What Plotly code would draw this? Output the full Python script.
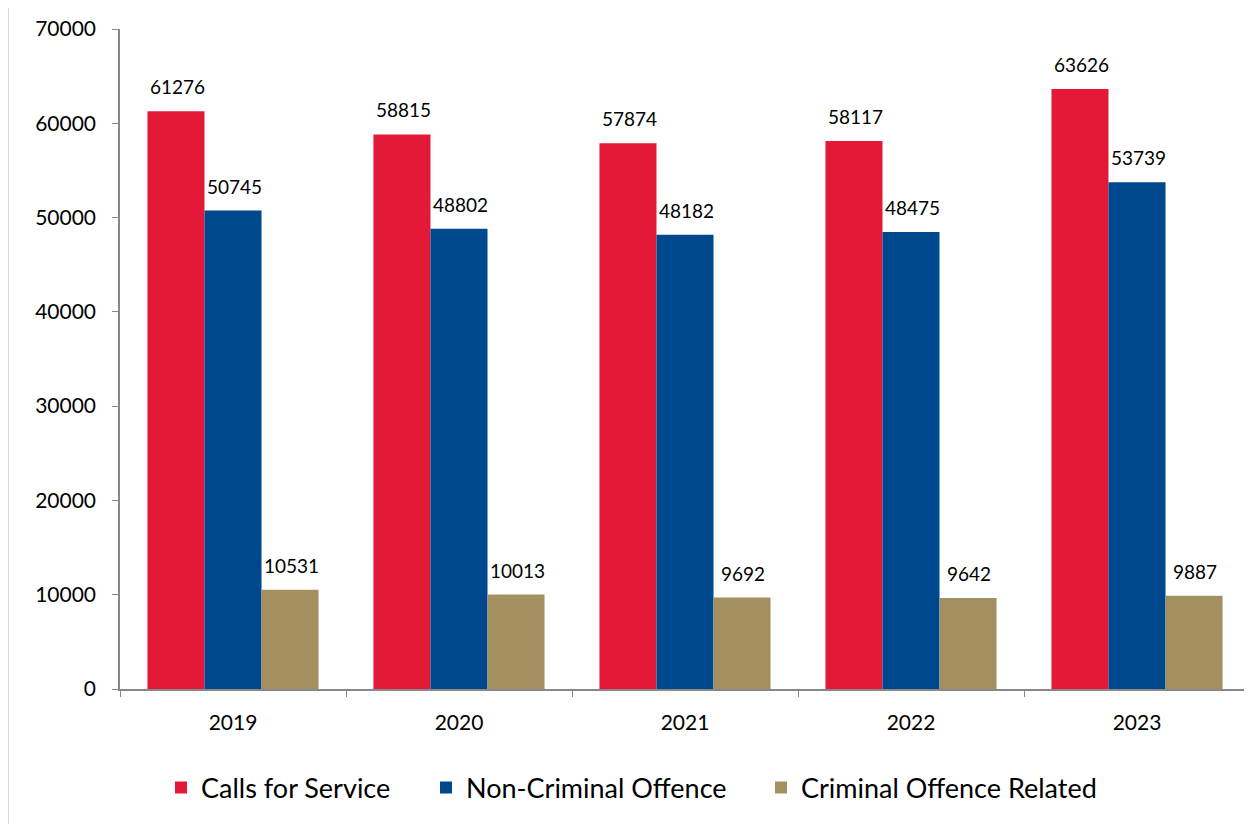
import plotly.graph_objects as go

years = ["2019", "2020", "2021", "2022", "2023"]
calls = [61276, 58815, 57874, 58117, 63626]
non_criminal = [50745, 48802, 48182, 48475, 53739]
criminal = [10531, 10013, 9692, 9642, 9887]
series_names = ["Calls for Service", "Non-Criminal Offence", "Criminal Offence Related"]
colors = ["#E31937", "#00488D", "#A38F5F"]
y_ticks = [0, 10000, 20000, 30000, 40000, 50000, 60000, 70000]

FONT = "Lato"
series = [calls, non_criminal, criminal]
legend_ids = ["legend", "legend2", "legend3"]

fig = go.Figure()
for name, vals, col, lid in zip(series_names, series, colors, legend_ids):
    fig.add_trace(go.Bar(x=years, y=vals, name=name, legend=lid,
                         marker=dict(color=col, line=dict(width=0))))

annotations = []
bar_px = 57
for i, vals in enumerate(series):
    for j, v in enumerate(vals):
        annotations.append(dict(x=j, y=v, xref="x", yref="y", text=str(v), showarrow=False,
                                xanchor="center", yanchor="bottom", xshift=(i - 1) * bar_px + 1, yshift=11,
                                font=dict(family=FONT, size=19, color="#000000")))

# page has an 8px body margin; figure sits at (8, 8)
W, H = 1244, 816
ml, mt, mr, mb = 112, 21, 2, 135
pw, ph = W - ml - mr, H - mt - mb

# legend swatch screen positions in the reference
swatch_left = [175, 440, 775]
SWATCH_OFF = 14


def legend_cfg(sx):
    return dict(orientation="h", x=(sx - SWATCH_OFF - 120) / pw, xanchor="left", y=-0.15, yanchor="middle",
                font=dict(family=FONT, size=27), itemwidth=30, bgcolor="rgba(0,0,0,0)")


fig.update_layout(
    width=W, height=H,
    margin=dict(l=ml, r=mr, t=mt, b=mb),
    paper_bgcolor="white", plot_bgcolor="white",
    barmode="group", bargap=0.243, bargroupgap=0,
    font=dict(family=FONT, color="#000000"),
    showlegend=True,
    legend=legend_cfg(swatch_left[0]),
    legend2=legend_cfg(swatch_left[1]),
    legend3=legend_cfg(swatch_left[2]),
    annotations=annotations,
    shapes=[dict(type="rect", xref="paper", yref="paper",
                 x0=(0.5 - ml) / pw, x1=(W + 10 - ml) / pw,
                 y0=-(mb + 10) / ph, y1=(ph + mt + 0.5) / ph,
                 line=dict(color="#D9D9D9", width=1), fillcolor="rgba(0,0,0,0)", layer="below")],
)
fig.update_yaxes(range=[0, 70000], tickvals=y_ticks, ticktext=[str(t) for t in y_ticks],
                 showgrid=False, zeroline=False, showline=True, linecolor="#888888", linewidth=1.5,
                 ticks="outside", ticklen=6, tickcolor="#888888", tickfont=dict(family=FONT, size=21),
                 ticklabelstandoff=12)
fig.update_xaxes(type="category", range=[-0.5, len(years) - 0.5], showgrid=False, showline=True,
                 linecolor="#888888", linewidth=1.5,
                 ticks="outside", tickson="boundaries", ticklen=6, tickcolor="#888888",
                 tickfont=dict(family=FONT, size=21), ticklabelstandoff=14)

fig.write_html("out.html")
